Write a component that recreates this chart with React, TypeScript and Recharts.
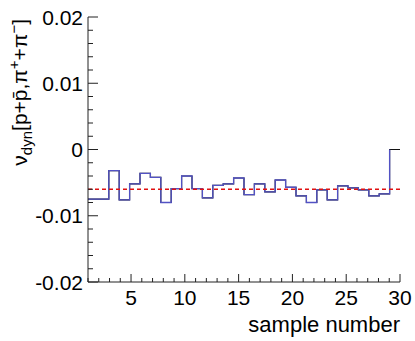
// ν_dyn per sample: ROOT-style step histogram with a dashed mean line.
import { LineChart, Line, XAxis, YAxis, ReferenceLine, Label } from "recharts";

const BIN_LO = 1;
const BIN_HI = 30;

// one value per bin (30 bins between BIN_LO and BIN_HI)
const nuDyn = [
  -0.0075, -0.0075, -0.0032, -0.0076, -0.0052, -0.0036, -0.0042, -0.008, -0.0059, -0.004,
  -0.0059, -0.0073, -0.0054, -0.0052, -0.0043, -0.0068, -0.0052, -0.0064, -0.0046, -0.0057,
  -0.007, -0.008, -0.0061, -0.0076, -0.0055, -0.0058, -0.0061, -0.007, -0.0067, 0.0,
];
const meanNuDyn = -0.006;

const xMajor = [5, 10, 15, 20, 25, 30];
const xTicks = [
  1, 2, 3, 4, 5, 6, 7, 8, 9, 10, 11, 12, 13, 14, 15, 16, 17, 18, 19, 20, 21, 22, 23, 24, 25, 26,
  27, 28, 29, 30,
];
const yMajor = [-0.02, -0.01, 0, 0.01, 0.02];
const yTicks = [
  -0.02, -0.018, -0.016, -0.014, -0.012, -0.01, -0.008, -0.006, -0.004, -0.002, 0, 0.002, 0.004,
  0.006, 0.008, 0.01, 0.012, 0.014, 0.016, 0.018, 0.02,
];

const FONT = "'Liberation Sans', Arial, sans-serif";
const AXIS = "#222";

// bin edges -> rows for stepAfter; last row closes the final bin
const binW = (BIN_HI - BIN_LO) / nuDyn.length;
const rows = [
  ...nuDyn.map((v, i) => ({ x: BIN_LO + i * binW, all: v, blue: v })),
  { x: BIN_HI, all: nuDyn[nuDyn.length - 1], blue: null as number | null },
];

const isMajor = (list: number[], v: number) => list.some((m) => Math.abs(m - v) < 1e-9);

function XTick({ x, y, payload, top }: any) {
  const major = isMajor(xMajor, payload.value);
  const len = major ? 8 : 4;
  const dir = top ? 1 : -1;
  return (
    <g>
      <line x1={x} x2={x} y1={y} y2={y + dir * len} stroke={AXIS} />
      {major && !top && (
        <text x={x} y={y + 23} textAnchor="middle" fontFamily={FONT} fontSize={21} fill="#000">
          {payload.value}
        </text>
      )}
    </g>
  );
}

function YTick({ x, y, payload, right }: any) {
  const major = isMajor(yMajor, payload.value);
  const len = major ? 10 : 5;
  const dir = right ? -1 : 1;
  const v = payload.value;
  return (
    <g>
      <line x1={x} x2={x + dir * len} y1={y} y2={y} stroke={AXIS} />
      {major && !right && (
        <text x={x - 5} y={y + 7.5} textAnchor="end" fontFamily={FONT} fontSize={21} fill="#000">
          {Math.abs(v) < 1e-9 ? "0" : v.toFixed(2)}
        </text>
      )}
    </g>
  );
}

function YTitle({ viewBox }: any) {
  const cx = 27;
  const cy = viewBox.y + 2;
  return (
    <text
      x={cx}
      y={cy}
      transform={`rotate(-90, ${cx}, ${cy})`}
      textAnchor="end"
      fontFamily={FONT}
      fontSize={21}
      fill="#000"
    >
      ν
      <tspan fontSize={15} dy={5}>dyn</tspan>
      <tspan fontSize={21} dy={-5}>[p+p{"\u0304"},π</tspan>
      <tspan fontSize={15} dy={-8}>+</tspan>
      <tspan fontSize={21} dy={8}>+π</tspan>
      <tspan fontSize={15} dy={-8}>−</tspan>
      <tspan fontSize={21} dy={8}>]</tspan>
    </text>
  );
}

function XTitle({ viewBox }: any) {
  return (
    <text
      x={viewBox.x + viewBox.width}
      y={332}
      textAnchor="end"
      fontFamily={FONT}
      fontSize={22}
      fill="#000"
    >
      sample number
    </text>
  );
}

export default function App() {
  return (
    <div style={{ width: 415, height: 341 }}>
      <style>{"body{margin:0}"}</style>
      <LineChart width={415} height={341} data={rows} margin={{ top: 17, right: 15, bottom: 0, left: 0 }}>
        <XAxis
          xAxisId="b"
          type="number"
          dataKey="x"
          domain={[BIN_LO, BIN_HI]}
          ticks={xTicks}
          interval={0}
          allowDataOverflow
          height={59}
          tickLine={false}
          tickSize={0}
          tickMargin={0}
          axisLine={{ stroke: AXIS }}
          tick={(p: any) => <XTick {...p} />}
        >
          <Label content={(p: any) => <XTitle {...p} />} />
        </XAxis>
        <XAxis
          xAxisId="t"
          orientation="top"
          type="number"
          dataKey="x"
          domain={[BIN_LO, BIN_HI]}
          ticks={xTicks}
          interval={0}
          allowDataOverflow
          height={0}
          tickLine={false}
          tickSize={0}
          tickMargin={0}
          axisLine={{ stroke: AXIS }}
          tick={(p: any) => <XTick {...p} top />}
        />
        <YAxis
          yAxisId="l"
          type="number"
          domain={[-0.02, 0.02]}
          ticks={yTicks}
          interval={0}
          allowDataOverflow
          width={88}
          tickLine={false}
          tickSize={0}
          tickMargin={0}
          axisLine={{ stroke: AXIS }}
          tick={(p: any) => <YTick {...p} />}
        >
          <Label content={(p: any) => <YTitle {...p} />} />
        </YAxis>
        <YAxis
          yAxisId="r"
          orientation="right"
          type="number"
          domain={[-0.02, 0.02]}
          ticks={yTicks}
          interval={0}
          allowDataOverflow
          width={0}
          tickLine={false}
          tickSize={0}
          tickMargin={0}
          axisLine={{ stroke: AXIS }}
          tick={(p: any) => <YTick {...p} right />}
        />
        <Line
          xAxisId="b"
          yAxisId="l"
          type="stepAfter"
          dataKey="all"
          stroke="#111"
          strokeWidth={1.2}
          dot={false}
          isAnimationActive={false}
        />
        <Line
          xAxisId="b"
          yAxisId="l"
          type="stepAfter"
          dataKey="blue"
          stroke="#5252c4"
          strokeWidth={1.3}
          dot={false}
          isAnimationActive={false}
        />
        <ReferenceLine
          xAxisId="b"
          yAxisId="l"
          y={meanNuDyn}
          stroke="#e01010"
          strokeWidth={1.5}
          strokeDasharray="4 3"
        />
      </LineChart>
    </div>
  );
}
